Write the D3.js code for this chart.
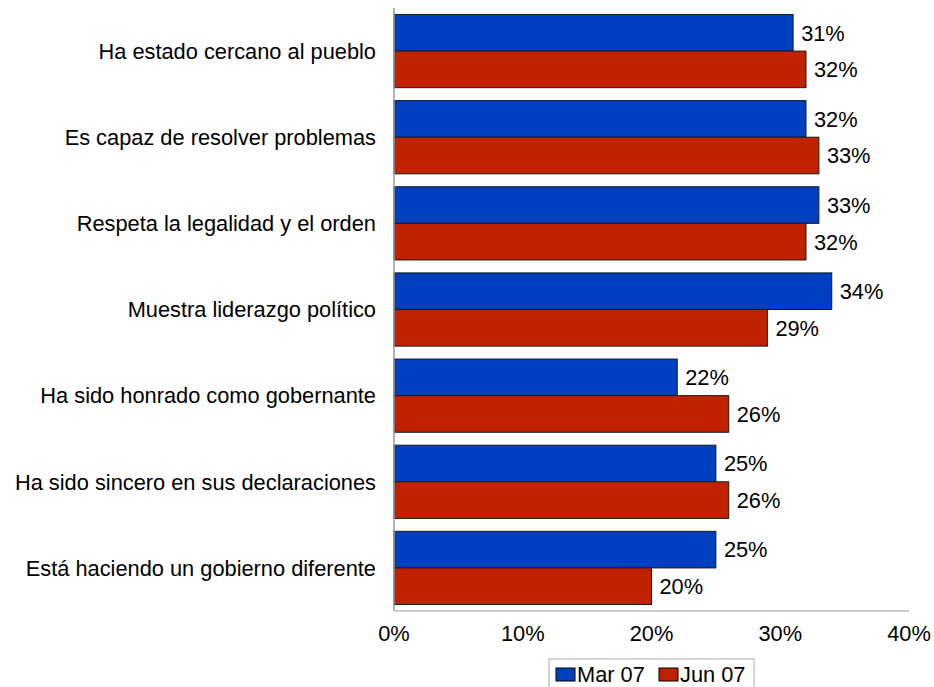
<!DOCTYPE html>
<html>
<head>
<meta charset="utf-8">
<script src="https://cdn.jsdelivr.net/npm/d3@7"></script>
<style>
  body { margin: 0; background: #fff; }
  svg text { font-family: "Liberation Sans", Arial, sans-serif; fill: #000; }
</style>
</head>
<body>
<svg id="chart"></svg>
<script>
// Chart data
const categories = [
    "Ha estado cercano al pueblo",
    "Es capaz de resolver problemas",
    "Respeta la legalidad y el orden",
    "Muestra liderazgo político",
    "Ha sido honrado como gobernante",
    "Ha sido sincero en sus declaraciones",
    "Está haciendo un gobierno diferente"
];
const series_names = ["Mar 07", "Jun 07"];
const mar_values = [31, 32, 33, 34, 22, 25, 25];
const jun_values = [32, 33, 32, 29, 26, 26, 20];
const x_ticks = [0, 10, 20, 30, 40];
const series_colors = ["#0040C0", "#C02200"];

const width = 934, height = 687;
const margins = { top: 8, right: 25, bottom: 76, left: 394 };
const chart_height = height - margins.top - margins.bottom;
const font_size = "21.8px";

const svg = d3.select("#chart")
    .attr("width", width)
    .attr("height", height)
    .append("g")
    .attr("transform", `translate(${margins.left}, ${margins.top})`);

// Scales
const x_scale = d3.scaleLinear().domain([0, 40]).range([0, 515]);
const y_scale = d3.scaleBand()
    .domain(categories)
    .range([0, chart_height])
    .paddingInner(0.15)
    .paddingOuter(0.075);
const sub_scale = d3.scaleBand()
    .domain([0, 1])
    .range([0, y_scale.bandwidth()]);

// Build rows for the grouped bars
const rows = [];
categories.forEach((c, i) => {
    rows.push({ cat: c, s: 0, value: mar_values[i] });
    rows.push({ cat: c, s: 1, value: jun_values[i] });
});

// Bars
svg.selectAll("rect.bar")
    .data(rows)
    .join("rect")
    .attr("class", "bar")
    .attr("x", 0)
    .attr("y", d => y_scale(d.cat) + sub_scale(d.s))
    .attr("width", d => x_scale(d.value))
    .attr("height", sub_scale.bandwidth())
    .style("fill", d => series_colors[d.s])
    .style("stroke", "#1a1a1a")
    .style("stroke-width", 1);

// Value labels
svg.selectAll("text.val")
    .data(rows)
    .join("text")
    .attr("class", "val")
    .attr("x", d => x_scale(d.value) + 8)
    .attr("y", d => y_scale(d.cat) + sub_scale(d.s) + sub_scale.bandwidth() / 2)
    .attr("dy", "0.36em")
    .style("font-size", font_size)
    .text(d => d.value + "%");

// Category labels
svg.selectAll("text.cat")
    .data(categories)
    .join("text")
    .attr("class", "cat")
    .attr("x", -18)
    .attr("y", d => y_scale(d) + y_scale.bandwidth() / 2)
    .attr("dy", "0.36em")
    .attr("text-anchor", "end")
    .style("font-size", font_size)
    .text(d => d);

// Axes lines
svg.append("line")
    .attr("x1", 0).attr("x2", 0)
    .attr("y1", 0).attr("y2", chart_height)
    .style("stroke", "#999").style("stroke-width", 1.5);
svg.append("line")
    .attr("x1", 0).attr("x2", x_scale(40))
    .attr("y1", chart_height).attr("y2", chart_height)
    .style("stroke", "#bbb").style("stroke-width", 1.5);

// X tick labels
svg.selectAll("text.tick")
    .data(x_ticks)
    .join("text")
    .attr("class", "tick")
    .attr("x", d => x_scale(d))
    .attr("y", chart_height + 30)
    .attr("text-anchor", "middle")
    .style("font-size", font_size)
    .text(d => d + "%");

// Legend (cut by the bottom edge, as in the original)
const legend = d3.select("#chart").append("g")
    .attr("transform", "translate(549, 659)");
legend.append("rect")
    .attr("x", 0).attr("y", 0)
    .attr("width", 205).attr("height", 34)
    .style("fill", "#fff").style("stroke", "#aaa");
const legend_items = legend.selectAll("g.item")
    .data(series_names)
    .join("g")
    .attr("class", "item")
    .attr("transform", (d, i) => `translate(${7 + i * 103}, 0)`);
legend_items.append("rect")
    .attr("x", 0).attr("y", 9)
    .attr("width", 19).attr("height", 13)
    .style("fill", (d, i) => series_colors[i])
    .style("stroke", "#000");
legend_items.append("text")
    .attr("x", 21).attr("y", 15.5)
    .attr("dy", "0.36em")
    .style("font-size", font_size)
    .text(d => d);
</script>
</body>
</html>
